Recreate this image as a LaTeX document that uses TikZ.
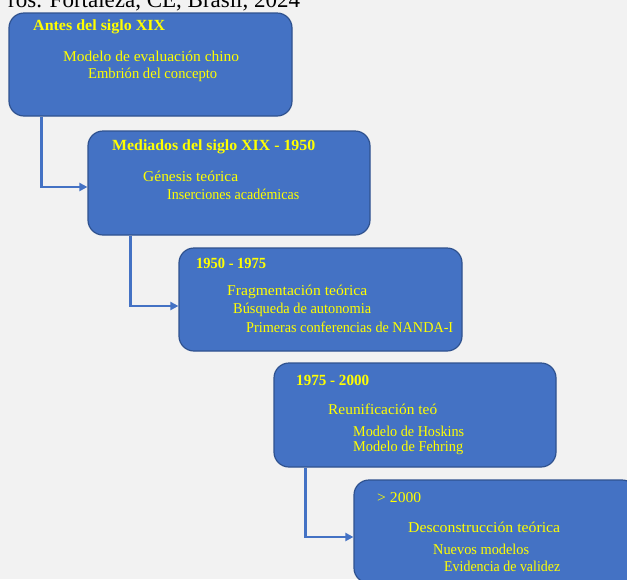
\documentclass[tikz,border=0pt]{standalone}
\usepackage{fontspec}
\usepackage{graphicx}
\setmainfont{Liberation Serif}
\usetikzlibrary{arrows.meta}
\definecolor{bg}{HTML}{F2F2F2}
\definecolor{boxfill}{HTML}{4472C4}
\definecolor{boxedge}{HTML}{2F528F}
\definecolor{txt}{HTML}{FFFF00}
\newcommand\fitw[2]{\resizebox{#1}{\height}{#2}}
\tikzset{
  stagebox/.style={draw=boxedge, fill=boxfill, line width=1.2pt, rounded corners=15pt, minimum width=283pt, minimum height=103pt, inner sep=0pt},
  lbl/.style={anchor=west, text=txt, inner sep=0pt, font=\fontsize{15}{17}\selectfont},
  hdr/.style={lbl, font=\fontsize{15.5}{17}\selectfont\bfseries},
  conn/.style={draw=boxfill, line width=2.4pt, -{Triangle[length=8pt,width=8pt]}},
}
\begin{document}
\begin{tikzpicture}[x=1pt,y=-1pt]
\useasboundingbox (0,0) rectangle (627,579);
\clip (0,0) rectangle (627,579);
\fill[bg] (0,0) rectangle (627,579);
\node[anchor=base west, inner sep=0pt, font=\fontsize{23}{26}\selectfont] (title) at (8,7) {ros. Fortaleza, CE, Brasil, 2024};

\node[stagebox] (b1) at (150.5,64.5) {};
\node[stagebox, minimum width=282pt, minimum height=104pt] (b2) at (229,183) {};
\node[stagebox] (b3) at (320.5,299.5) {};
\node[stagebox, minimum width=282pt, minimum height=104pt] (b4) at (415,415) {};
\node[stagebox] (b5) at (495.5,531.5) {};

\draw[conn] ([xshift=33pt]b1.south west) |- ([yshift=-4pt]b2.west);
\draw[conn] ([xshift=43pt]b2.south west) |- ([yshift=-6.5pt]b3.west);
\draw[conn] ([xshift=32pt]b4.south west) |- ([yshift=-5.5pt]b5.west);

\node[hdr] (h1) at (33,27) {\fitw{132pt}{Antes del siglo XIX}};
\node[lbl] (t11) at (63,56) {\fitw{176pt}{Modelo de evaluación chino}};
\node[lbl] (t12) at (88,75) {\fitw{129pt}{Embrión del concepto}};

\node[hdr] (h2) at (112,147) {\fitw{203pt}{Mediados del siglo XIX - 1950}};
\node[lbl] (t21) at (143,176) {\fitw{95pt}{Génesis teórica}};
\node[lbl] (t22) at (167,194) {\fitw{132pt}{Inserciones académicas}};

\node[hdr] (h3) at (196,263) {\fitw{70pt}{1950 - 1975}};
\node[lbl] (t31) at (227,292) {\fitw{140pt}{Fragmentación teórica}};
\node[lbl] (t32) at (233,310) {\fitw{138pt}{Búsqueda de autonomia}};
\node[lbl] (t33) at (246,327) {\fitw{207pt}{Primeras conferencias de NANDA-I}};

\node[hdr] (h4) at (296,380) {\fitw{73pt}{1975 - 2000}};
\node[lbl] (t41) at (328,409) {\fitw{109pt}{Reunificación teó}};
\node[lbl] (t42) at (353,431) {\fitw{111pt}{Modelo de Hoskins}};
\node[lbl] (t43) at (353,448) {\fitw{110pt}{Modelo de Fehring}};

\node[lbl] (h5) at (377,498) {\fitw{44pt}{> 2000}};
\node[lbl] (t51) at (408,527) {\fitw{152pt}{Desconstrucción teórica}};
\node[lbl] (t52) at (433,549) {\fitw{96pt}{Nuevos modelos}};
\node[lbl] (t53) at (444,566) {\fitw{116pt}{Evidencia de validez}};
\end{tikzpicture}
\end{document}
